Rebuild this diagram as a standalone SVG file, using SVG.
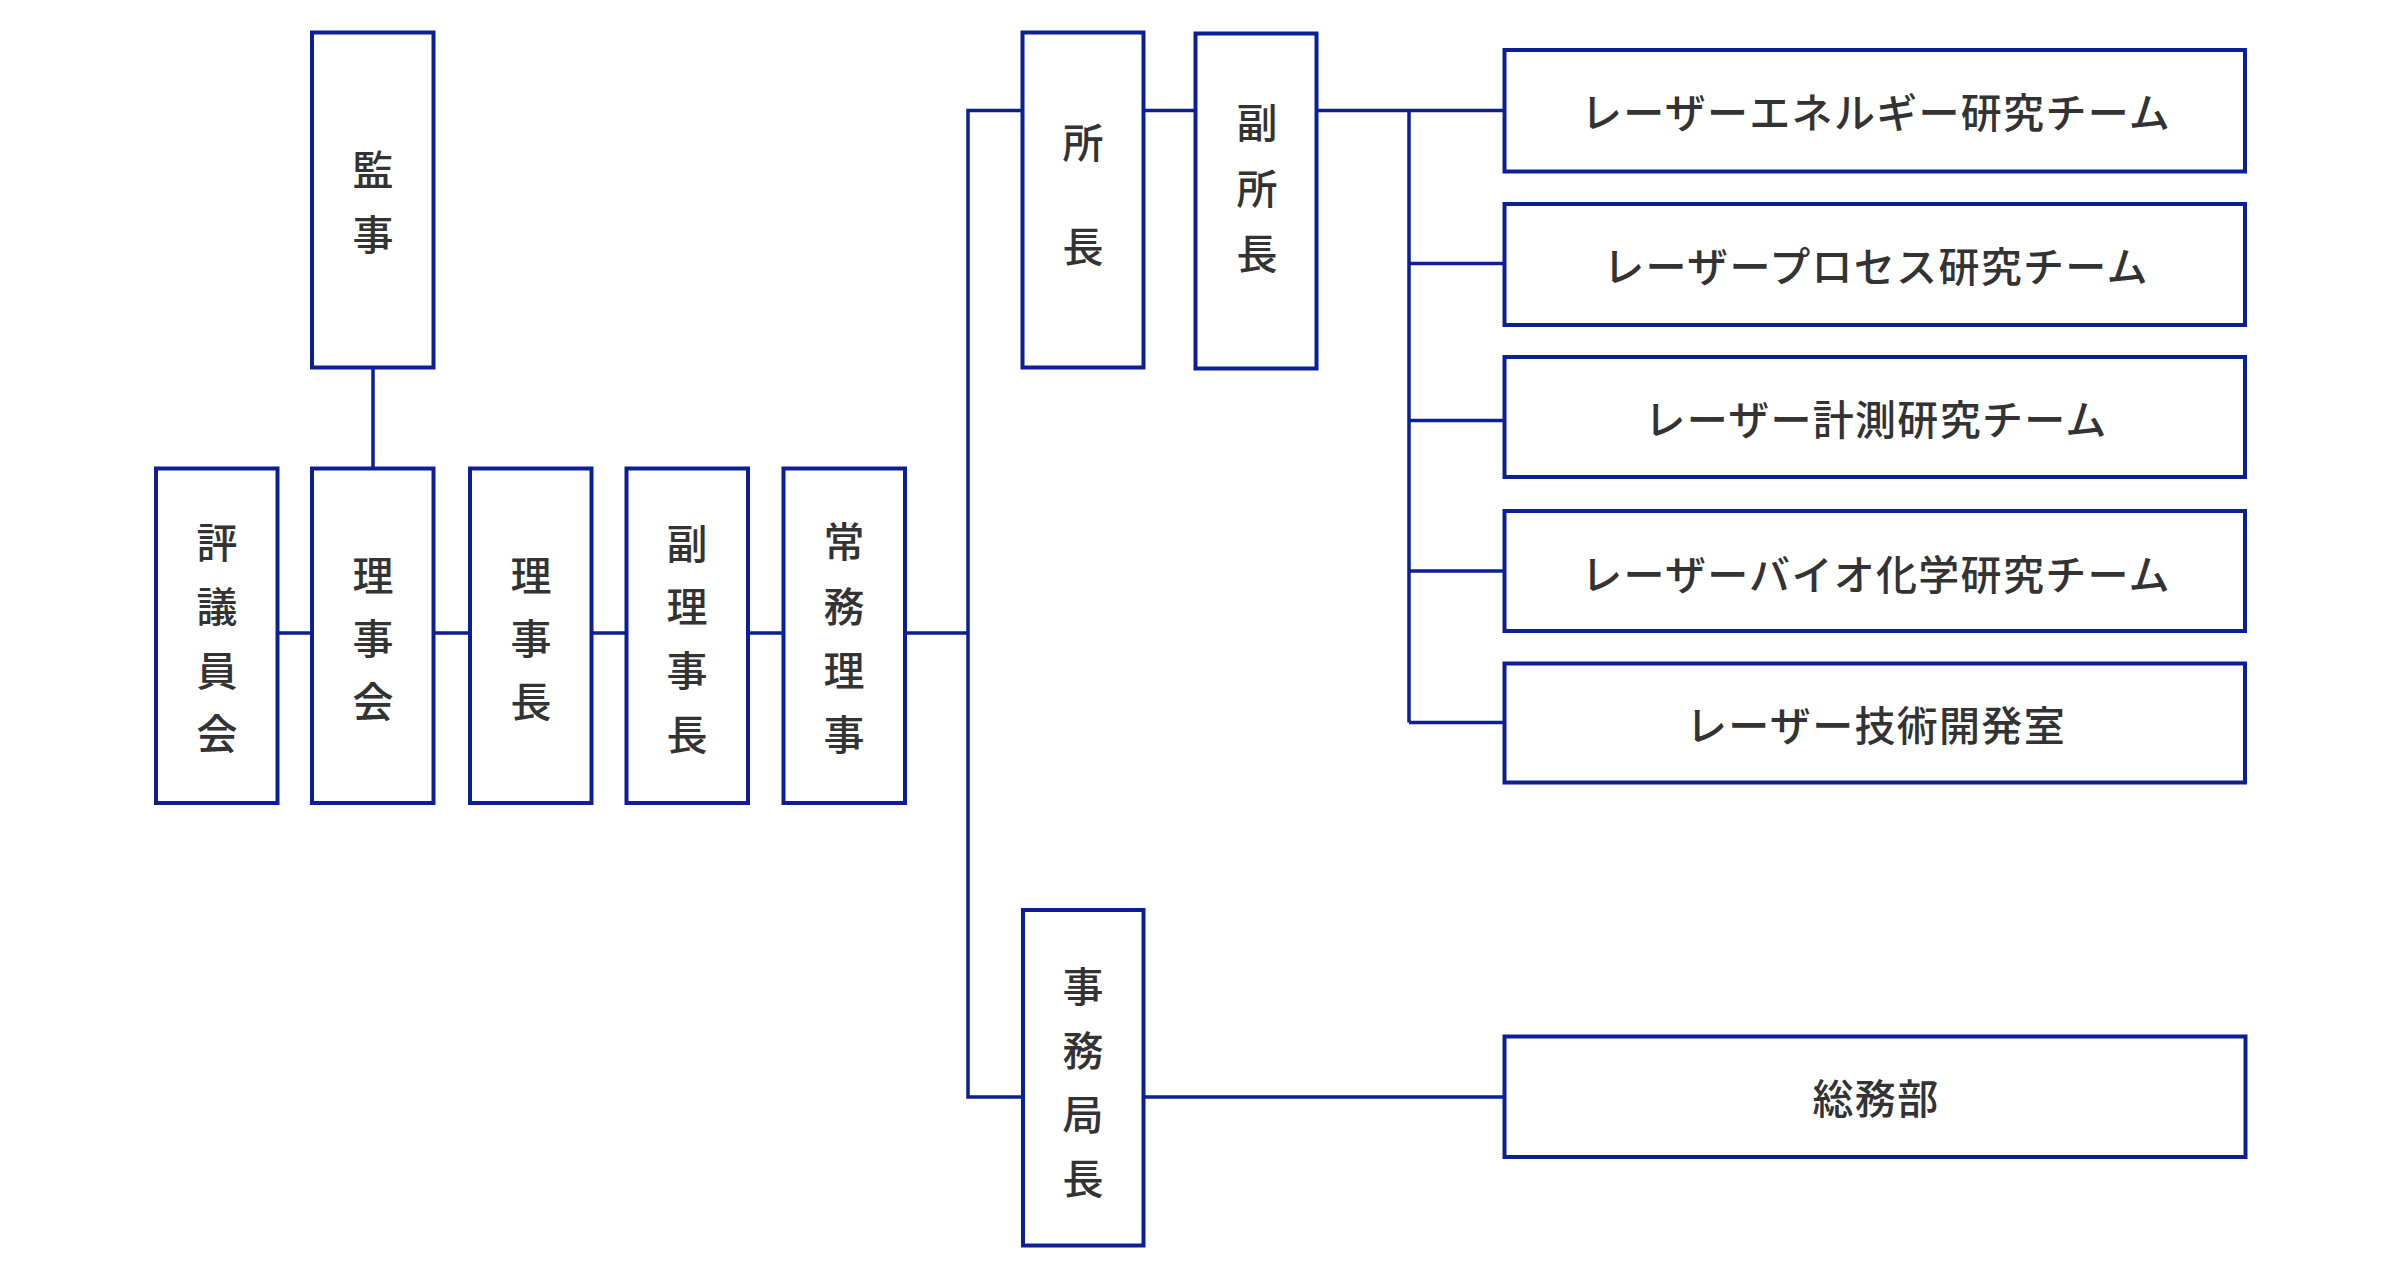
<svg xmlns="http://www.w3.org/2000/svg" width="2400" height="1274" viewBox="0 0 2400 1274">
<style>
.box{fill:#fff;stroke:#0c1f96;stroke-width:4}
.ln{fill:none;stroke:#0c1f96;stroke-width:3.5}
text{font-family:"Noto Sans CJK JP","Noto Sans",sans-serif;font-size:41px;font-weight:500;fill:#333;text-anchor:middle}
.h{letter-spacing:1.3px}
</style>
<rect width="2400" height="1274" fill="#fff"/>
<g id="connectors">
<path class="ln" d="M373 368V468"/>
<path class="ln" d="M278 633H312M434 633H470M593 633H626M749 633H783M905 633H968"/>
<path class="ln" d="M1022 110.5H968V1097H1022"/>
<path class="ln" d="M1144 110.5H1195M1317 110.5H1504"/>
<path class="ln" d="M1409 110.5V722.5M1409 263.5H1504M1409 420.5H1504M1409 571H1504M1409 722.5H1504"/>
<path class="ln" d="M1144 1097H1504"/>
</g>
<g id="kanji">
<rect class="box" x="312" y="32.5" width="121.5" height="335"/>
<text x="373" y="185">監</text><text x="373" y="250">事</text>
</g>
<g id="hyogiinkai">
<rect class="box" x="156" y="468.5" width="121.5" height="334.5"/>
<text x="217" y="558">評</text><text x="217" y="622">議</text><text x="217" y="686">員</text><text x="217" y="749">会</text>
</g>
<g id="rijikai">
<rect class="box" x="312" y="468.5" width="121.5" height="334.5"/>
<text x="373" y="591">理</text><text x="373" y="654">事</text><text x="373" y="717">会</text>
</g>
<g id="rijicho">
<rect class="box" x="470" y="468.5" width="121.5" height="334.5"/>
<text x="531" y="591">理</text><text x="531" y="654">事</text><text x="531" y="717">長</text>
</g>
<g id="fukurijicho">
<rect class="box" x="626.5" y="468.5" width="121.5" height="334.5"/>
<text x="687" y="559">副</text><text x="687" y="622">理</text><text x="687" y="686">事</text><text x="687" y="750">長</text>
</g>
<g id="jomuriji">
<rect class="box" x="783.5" y="468.5" width="121.5" height="334.5"/>
<text x="844" y="557">常</text><text x="844" y="622">務</text><text x="844" y="686">理</text><text x="844" y="750">事</text>
</g>
<g id="shocho">
<rect class="box" x="1022.5" y="32.5" width="121" height="335"/>
<text x="1083" y="158">所</text><text x="1083" y="262">長</text>
</g>
<g id="fukushocho">
<rect class="box" x="1195.5" y="33.5" width="121" height="335"/>
<text x="1257" y="138">副</text><text x="1257" y="204">所</text><text x="1257" y="269">長</text>
</g>
<g id="team1">
<rect class="box" x="1504.5" y="50" width="740.5" height="121.5"/>
<text class="h" x="1876" y="128">レーザーエネルギー研究チーム</text>
</g>
<g id="team2">
<rect class="box" x="1504.5" y="204" width="740.5" height="121"/>
<text class="h" x="1876" y="282">レーザープロセス研究チーム</text>
</g>
<g id="team3">
<rect class="box" x="1504.5" y="357" width="740.5" height="120"/>
<text class="h" x="1876" y="435">レーザー計測研究チーム</text>
</g>
<g id="team4">
<rect class="box" x="1504.5" y="511" width="740.5" height="120"/>
<text class="h" x="1876" y="590">レーザーバイオ化学研究チーム</text>
</g>
<g id="team5">
<rect class="box" x="1504.5" y="663.5" width="740.5" height="119"/>
<text class="h" x="1876" y="741">レーザー技術開発室</text>
</g>
<g id="jimukyokucho">
<rect class="box" x="1023" y="910" width="120.5" height="335.5"/>
<text x="1083" y="1002">事</text><text x="1083" y="1066">務</text><text x="1083" y="1130">局</text><text x="1083" y="1194">長</text>
</g>
<g id="somubu">
<rect class="box" x="1504.5" y="1036.5" width="741" height="120.5"/>
<text class="h" x="1876" y="1114">総務部</text>
</g>
</svg>
